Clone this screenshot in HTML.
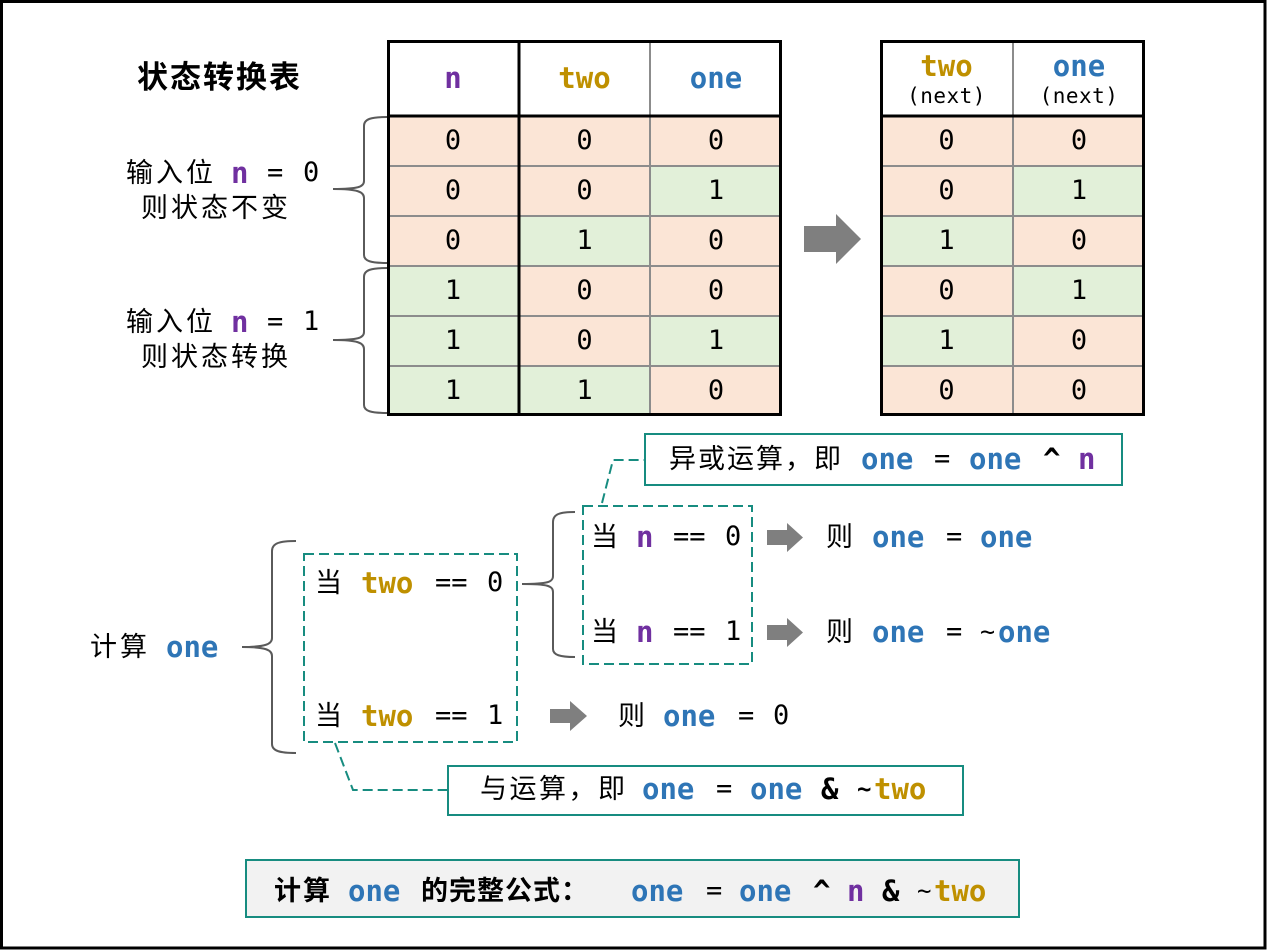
<!DOCTYPE html>
<html><head><meta charset="utf-8">
<style>
html,body{margin:0;padding:0;background:#fff;}
#w{position:relative;width:1267px;height:951px;overflow:hidden;background:#fff;}
svg{position:absolute;left:0;top:0;}
.t{position:absolute;height:40px;line-height:40px;white-space:pre;}
.c{font-family:"Liberation Sans","Noto Sans CJK SC",sans-serif;font-size:27px;letter-spacing:3px;color:#000;}
.m{font-family:"DejaVu Sans Mono","Liberation Mono",monospace;font-size:27px;color:#000;}
.b{font-family:"DejaVu Sans Mono","Liberation Mono",monospace;font-weight:bold;font-size:29px;}
.pu{color:#7030a0;}.go{color:#bf9000;}.bl{color:#2e75b6;}.k{color:#000;}
.cc{position:absolute;height:40px;line-height:40px;text-align:center;white-space:pre;}
.bold{font-weight:bold;}
</style></head><body><div id="w">
<svg width="1267" height="951" viewBox="0 0 1267 951">
<rect x="1.5" y="1.5" width="1263.5" height="946.5" fill="#fff" stroke="#000" stroke-width="3"/>
<g>
<rect x="387" y="116" width="132" height="50" fill="#fbe5d6"/><rect x="519" y="116" width="131" height="50" fill="#fbe5d6"/><rect x="650" y="116" width="132" height="50" fill="#fbe5d6"/>
<rect x="387" y="166" width="132" height="50" fill="#fbe5d6"/><rect x="519" y="166" width="131" height="50" fill="#fbe5d6"/><rect x="650" y="166" width="132" height="50" fill="#e2f0d9"/>
<rect x="387" y="216" width="132" height="50" fill="#fbe5d6"/><rect x="519" y="216" width="131" height="50" fill="#e2f0d9"/><rect x="650" y="216" width="132" height="50" fill="#fbe5d6"/>
<rect x="387" y="266" width="132" height="50" fill="#e2f0d9"/><rect x="519" y="266" width="131" height="50" fill="#fbe5d6"/><rect x="650" y="266" width="132" height="50" fill="#fbe5d6"/>
<rect x="387" y="316" width="132" height="50" fill="#e2f0d9"/><rect x="519" y="316" width="131" height="50" fill="#fbe5d6"/><rect x="650" y="316" width="132" height="50" fill="#e2f0d9"/>
<rect x="387" y="366" width="132" height="50" fill="#e2f0d9"/><rect x="519" y="366" width="131" height="50" fill="#e2f0d9"/><rect x="650" y="366" width="132" height="50" fill="#fbe5d6"/>
</g>
<g stroke="#8c8c8c" stroke-width="2">
<line x1="387" y1="166" x2="782" y2="166"/><line x1="387" y1="216" x2="782" y2="216"/><line x1="387" y1="266" x2="782" y2="266"/><line x1="387" y1="316" x2="782" y2="316"/><line x1="387" y1="366" x2="782" y2="366"/>
<line x1="650" y1="40" x2="650" y2="416"/>
</g>
<g stroke="#000" stroke-width="3" fill="none">
<line x1="519" y1="40" x2="519" y2="416"/>
<line x1="387" y1="116" x2="782" y2="116"/>
<rect x="388.5" y="41.5" width="392" height="373"/>
</g>
<g>
<rect x="880" y="116" width="133" height="50" fill="#fbe5d6"/><rect x="1013" y="116" width="132" height="50" fill="#fbe5d6"/>
<rect x="880" y="166" width="133" height="50" fill="#fbe5d6"/><rect x="1013" y="166" width="132" height="50" fill="#e2f0d9"/>
<rect x="880" y="216" width="133" height="50" fill="#e2f0d9"/><rect x="1013" y="216" width="132" height="50" fill="#fbe5d6"/>
<rect x="880" y="266" width="133" height="50" fill="#fbe5d6"/><rect x="1013" y="266" width="132" height="50" fill="#e2f0d9"/>
<rect x="880" y="316" width="133" height="50" fill="#e2f0d9"/><rect x="1013" y="316" width="132" height="50" fill="#fbe5d6"/>
<rect x="880" y="366" width="133" height="50" fill="#fbe5d6"/><rect x="1013" y="366" width="132" height="50" fill="#fbe5d6"/>
</g>
<g stroke="#8c8c8c" stroke-width="2">
<line x1="880" y1="166" x2="1145" y2="166"/><line x1="880" y1="216" x2="1145" y2="216"/><line x1="880" y1="266" x2="1145" y2="266"/><line x1="880" y1="316" x2="1145" y2="316"/><line x1="880" y1="366" x2="1145" y2="366"/>
<line x1="1013" y1="40" x2="1013" y2="416"/>
</g>
<g stroke="#000" stroke-width="3" fill="none">
<line x1="880" y1="116" x2="1145" y2="116"/>
<rect x="881.5" y="41.5" width="262" height="373"/>
</g>
<g stroke="#5a5a5a" stroke-width="2" fill="none">
<path d="M387,117 C371,117 364,119 364,126 L364,181 C364,187 358,189 333,189 C358,189 364,192 364,198 L364,255 C364,261 371,263 387,263"/>
<path d="M387,268 C371,268 364,270 364,277 L364,332 C364,338 358,340 333,340 C358,340 364,343 364,349 L364,405 C364,411 371,413 387,413"/>
<path d="M296,541 C280,541 272,543 272,551 L272,638 C272,644 266,647 242,647 C266,647 272,650 272,656 L272,744 C272,751 280,753 296,753"/>
<path d="M575,512 C560,512 553,514 553,522 L553,576 C553,582 548,584 522,584 C548,584 553,586 553,592 L553,649 C553,655 560,657 575,657"/>
</g>
<g fill="#7f7f7f">
<polygon points="804,226 836,226 836,214 861,239 836,264 836,252 804,252"/>
<polygon points="767,530 787,530 787,523 803,537.5 787,552 787,545 767,545"/>
<polygon points="767,625 787,625 787,618 803,632.5 787,647 787,640 767,640"/>
<polygon points="550,709 570,709 570,701 587,716 570,731 570,723 550,723"/>
</g>
<g stroke="#178c80" stroke-width="2" fill="none" stroke-dasharray="10 5">
<rect x="304" y="554" width="213" height="188"/>
<rect x="583" y="506" width="169" height="158"/>
<polyline points="602,503 613,460 644,460"/>
<polyline points="335,743 353,790 447,790"/>
</g>
<g stroke="#178c80" stroke-width="2">
<rect x="645" y="434" width="477" height="51" fill="#fff"/>
<rect x="448" y="766" width="515" height="49" fill="#fff"/>
<rect x="246" y="860" width="773" height="57" fill="#f2f2f2"/>
</g>
</svg>

<div class="t c bold" style="left:137px;top:58px;font-size:31px;letter-spacing:2px;">状态转换表</div>

<div class="t c" style="left:126px;top:153px;">输入位</div>
<div class="t b pu" style="left:231px;top:153px;">n</div>
<div class="t m" style="left:267px;top:153px;">=</div>
<div class="t m" style="left:303px;top:153px;">0</div>
<div class="t c" style="left:141px;top:188px;">则状态不变</div>
<div class="t c" style="left:126px;top:302px;">输入位</div>
<div class="t b pu" style="left:231px;top:302px;">n</div>
<div class="t m" style="left:267px;top:302px;">=</div>
<div class="t m" style="left:303px;top:302px;">1</div>
<div class="t c" style="left:141px;top:337px;">则状态转换</div>

<div class="cc b pu" style="left:387px;width:132px;top:58px;">n</div>
<div class="cc b go" style="left:519px;width:131px;top:58px;">two</div>
<div class="cc b bl" style="left:650px;width:132px;top:58px;">one</div>

<div class="cc m" style="left:387px;width:132px;top:121px;">0</div><div class="cc m" style="left:519px;width:131px;top:121px;">0</div><div class="cc m" style="left:650px;width:132px;top:121px;">0</div>
<div class="cc m" style="left:387px;width:132px;top:171px;">0</div><div class="cc m" style="left:519px;width:131px;top:171px;">0</div><div class="cc m" style="left:650px;width:132px;top:171px;">1</div>
<div class="cc m" style="left:387px;width:132px;top:221px;">0</div><div class="cc m" style="left:519px;width:131px;top:221px;">1</div><div class="cc m" style="left:650px;width:132px;top:221px;">0</div>
<div class="cc m" style="left:387px;width:132px;top:271px;">1</div><div class="cc m" style="left:519px;width:131px;top:271px;">0</div><div class="cc m" style="left:650px;width:132px;top:271px;">0</div>
<div class="cc m" style="left:387px;width:132px;top:321px;">1</div><div class="cc m" style="left:519px;width:131px;top:321px;">0</div><div class="cc m" style="left:650px;width:132px;top:321px;">1</div>
<div class="cc m" style="left:387px;width:132px;top:371px;">1</div><div class="cc m" style="left:519px;width:131px;top:371px;">1</div><div class="cc m" style="left:650px;width:132px;top:371px;">0</div>

<div class="cc b go" style="left:880px;width:133px;top:46px;">two</div>
<div class="cc m" style="left:880px;width:133px;top:76px;font-size:21px;letter-spacing:0.5px;">(next)</div>
<div class="cc b bl" style="left:1013px;width:132px;top:46px;">one</div>
<div class="cc m" style="left:1013px;width:132px;top:76px;font-size:21px;letter-spacing:0.5px;">(next)</div>

<div class="cc m" style="left:880px;width:133px;top:121px;">0</div><div class="cc m" style="left:1013px;width:132px;top:121px;">0</div>
<div class="cc m" style="left:880px;width:133px;top:171px;">0</div><div class="cc m" style="left:1013px;width:132px;top:171px;">1</div>
<div class="cc m" style="left:880px;width:133px;top:221px;">1</div><div class="cc m" style="left:1013px;width:132px;top:221px;">0</div>
<div class="cc m" style="left:880px;width:133px;top:271px;">0</div><div class="cc m" style="left:1013px;width:132px;top:271px;">1</div>
<div class="cc m" style="left:880px;width:133px;top:321px;">1</div><div class="cc m" style="left:1013px;width:132px;top:321px;">0</div>
<div class="cc m" style="left:880px;width:133px;top:371px;">0</div><div class="cc m" style="left:1013px;width:132px;top:371px;">0</div>

<div class="t c" style="left:90px;top:627px;">计算</div>
<div class="t b bl" style="left:166px;top:627px;">one</div>

<div class="t c" style="left:315px;top:563px;">当</div>
<div class="t b go" style="left:361px;top:563px;">two</div>
<div class="t m" style="left:435px;top:563px;">==</div>
<div class="t m" style="left:487px;top:563px;">0</div>
<div class="t c" style="left:315px;top:696px;">当</div>
<div class="t b go" style="left:361px;top:696px;">two</div>
<div class="t m" style="left:435px;top:696px;">==</div>
<div class="t m" style="left:487px;top:696px;">1</div>

<div class="t c" style="left:591px;top:517px;">当</div>
<div class="t b pu" style="left:636px;top:517px;">n</div>
<div class="t m" style="left:673px;top:517px;">==</div>
<div class="t m" style="left:725px;top:517px;">0</div>
<div class="t c" style="left:591px;top:612px;">当</div>
<div class="t b pu" style="left:636px;top:612px;">n</div>
<div class="t m" style="left:673px;top:612px;">==</div>
<div class="t m" style="left:725px;top:612px;">1</div>

<div class="t c" style="left:826px;top:517px;">则</div>
<div class="t b bl" style="left:872px;top:517px;">one</div>
<div class="t m" style="left:946px;top:517px;">=</div>
<div class="t b bl" style="left:980px;top:517px;">one</div>

<div class="t c" style="left:826px;top:612px;">则</div>
<div class="t b bl" style="left:872px;top:612px;">one</div>
<div class="t m" style="left:946px;top:612px;">=</div>
<div class="t m" style="left:980px;top:612px;font-size:25px;">~</div>
<div class="t b bl" style="left:998px;top:612px;">one</div>

<div class="t c" style="left:618px;top:696px;">则</div>
<div class="t b bl" style="left:663px;top:696px;">one</div>
<div class="t m" style="left:738px;top:696px;">=</div>
<div class="t m" style="left:773px;top:696px;">0</div>

<div class="t c" style="left:669px;top:439px;letter-spacing:2px;">异或运算，即</div>
<div class="t b bl" style="left:861px;top:439px;">one</div>
<div class="t m" style="left:934px;top:439px;">=</div>
<div class="t b bl" style="left:969px;top:439px;">one</div>
<div class="t b k" style="left:1043px;top:439px;">^</div>
<div class="t b pu" style="left:1078px;top:439px;">n</div>

<div class="t c" style="left:480px;top:769px;letter-spacing:2.5px;">与运算，即</div>
<div class="t b bl" style="left:642px;top:769px;">one</div>
<div class="t m" style="left:716px;top:769px;">=</div>
<div class="t b bl" style="left:750px;top:769px;">one</div>
<div class="t b k" style="left:821px;top:769px;">&amp;</div>
<div class="t b k" style="left:857px;top:769px;font-size:24px;">~</div>
<div class="t b go" style="left:874px;top:769px;">two</div>

<div class="t c bold" style="left:274px;top:871px;letter-spacing:2px;">计算</div>
<div class="t b bl" style="left:348px;top:871px;">one</div>
<div class="t c bold" style="left:421px;top:871px;letter-spacing:1px;">的完整公式：</div>
<div class="t b bl" style="left:631px;top:871px;">one</div>
<div class="t m" style="left:706px;top:871px;">=</div>
<div class="t b bl" style="left:739px;top:871px;">one</div>
<div class="t b k" style="left:813px;top:871px;">^</div>
<div class="t b pu" style="left:847px;top:871px;">n</div>
<div class="t b k" style="left:882px;top:871px;">&amp;</div>
<div class="t m" style="left:917px;top:871px;font-size:24px;">~</div>
<div class="t b go" style="left:934px;top:871px;">two</div>
</div></body></html>
